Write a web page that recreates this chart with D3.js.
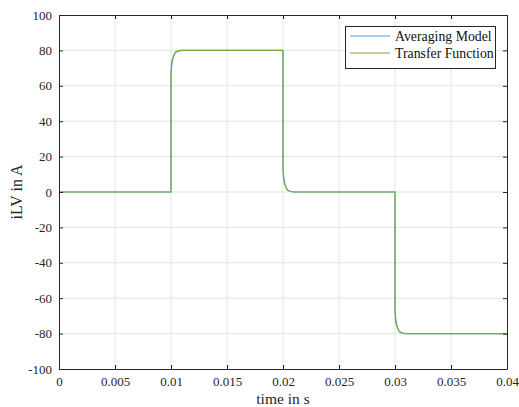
<!DOCTYPE html>
<html><head><meta charset="utf-8">
<script src="https://cdn.jsdelivr.net/npm/d3@7"></script>
<style>body{margin:0;background:#fff}svg{display:block}</style>
</head><body>
<svg id="c" width="519" height="407"></svg>
<script>
const xTicks = [0,0.005,0.01,0.015,0.02,0.025,0.03,0.035,0.04];
const xTickLabels = ["0","0.005","0.01","0.015","0.02","0.025","0.03","0.035","0.04"];
const yTicks = [-100,-80,-60,-40,-20,0,20,40,60,80,100];
const yTickLabels = ["-100","-80","-60","-40","-20","0","20","40","60","80","100"];
const seriesNames = ["Averaging Model","Transfer Function"];
const colors = ["#4da3e0","#77ac30"];
// Averaging model
const avgT = [0,0.01,0.01,0.01005,0.0101,0.0102,0.0103,0.0104,0.0106,0.0108,0.011,0.02,0.02,0.02005,0.0201,0.0202,0.0203,0.0204,0.0206,0.0208,0.021,0.03,0.03,0.03005,0.0301,0.0302,0.0303,0.0304,0.0306,0.0308,0.031,0.04];
const avgV = [0,0,65,70,73,76,77.8,78.8,79.5,79.85,80,80,14,10,7,4,2.2,1.2,0.5,0.15,0,0,-66,-70,-73,-76,-77.8,-78.8,-79.5,-79.85,-80,-80];
// Transfer function
const tfT = [0,0.01,0.01,0.01003,0.01006,0.0101,0.0102,0.0103,0.0104,0.0106,0.0108,0.011,0.02,0.02,0.02003,0.02006,0.0201,0.0202,0.0203,0.0204,0.0206,0.0208,0.021,0.03,0.03,0.03003,0.03006,0.0301,0.0302,0.0303,0.0304,0.0306,0.0308,0.031,0.04];
const tfV = [0,0,68,71,73.5,74.5,76.5,78,79,79.6,79.9,80,80,12,9,7,5.5,3.5,2,1,0.4,0.1,0,0,-68,-71,-73.5,-74.5,-76.5,-78,-79,-79.6,-79.9,-80,-80];

const font = '"Liberation Serif","Times New Roman",serif';

const svg = d3.select("#c");
const L=59,R=507,T=15,B=369;
const x = d3.scaleLinear().domain([0,0.04]).range([L,R]);
const y = d3.scaleLinear().domain([-100,100]).range([B,T]);

// grid
svg.append("g").selectAll("line").data(xTicks.slice(1,-1)).join("line")
  .attr("x1",d=>x(d)).attr("x2",d=>x(d)).attr("y1",T).attr("y2",B)
  .attr("stroke","#e3e3e3").attr("stroke-width",1);
svg.append("g").selectAll("line").data(yTicks.slice(1,-1)).join("line")
  .attr("y1",d=>y(d)).attr("y2",d=>y(d)).attr("x1",L).attr("x2",R)
  .attr("stroke","#e3e3e3").attr("stroke-width",1);

// lines
const line = d3.line().x(d=>x(d[0])).y(d=>y(d[1]));
const data = [d3.zip(avgT,avgV), d3.zip(tfT,tfV)];
data.forEach((d,i)=>{
  svg.append("path").datum(d).attr("d",line).attr("fill","none")
    .attr("stroke",colors[i]).attr("stroke-width",1.1);
});

// axes
const ax = svg.append("g").attr("transform",`translate(0,${B})`)
  .call(d3.axisBottom(x).tickValues(xTicks).tickFormat((d,i)=>xTickLabels[i]).tickSizeInner(-4).tickSizeOuter(0).tickPadding(8));
const axT = svg.append("g").attr("transform",`translate(0,${T})`)
  .call(d3.axisTop(x).tickValues(xTicks).tickFormat("").tickSizeInner(-4).tickSizeOuter(0));
const ay = svg.append("g").attr("transform",`translate(${L},0)`)
  .call(d3.axisLeft(y).tickValues(yTicks).tickFormat((d,i)=>yTickLabels[i]).tickSizeInner(-4).tickSizeOuter(0).tickPadding(7));
const ayR = svg.append("g").attr("transform",`translate(${R},0)`)
  .call(d3.axisRight(y).tickValues(yTicks).tickFormat("").tickSizeInner(-4).tickSizeOuter(0));
[ax,axT,ay,ayR].forEach(g=>{
  g.attr("font-family",font).attr("font-size",13);
  g.select(".domain").attr("stroke","#262626").attr("stroke-width",1);
  g.selectAll(".tick line").attr("stroke","#262626");
  g.selectAll("text").attr("fill","#262626");
});

// axis labels
svg.append("text").attr("x",(L+R)/2).attr("y",403.5).attr("text-anchor","middle")
  .attr("font-family",font).attr("font-size",15.5).attr("fill","#262626").text("time in s");
svg.append("text").attr("transform",`translate(22,${(T+B)/2}) rotate(-90)`).attr("text-anchor","middle")
  .attr("font-family",font).attr("font-size",16).attr("fill","#262626").text("iLV in A");

// legend
const lg = svg.append("g");
lg.append("rect").attr("x",345.5).attr("y",26.5).attr("width",150).attr("height",42)
  .attr("fill","#fff").attr("stroke","#262626").attr("stroke-width",1);
seriesNames.forEach((n,i)=>{
  const yy = 36 + i*17;
  lg.append("line").attr("x1",350).attr("x2",390).attr("y1",yy).attr("y2",yy)
    .attr("stroke",colors[i]).attr("stroke-width",1.1);
  lg.append("text").attr("x",395).attr("y",yy+4.5).attr("font-family",font).attr("font-size",13.8)
    .attr("fill","#111").text(n);
});
</script>
</body></html>
